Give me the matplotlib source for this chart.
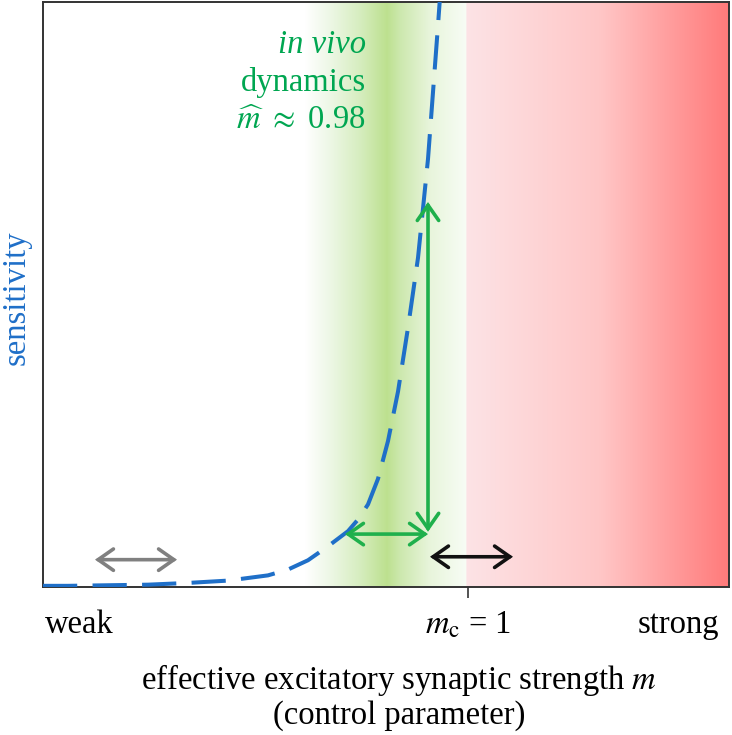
import numpy as np
import matplotlib
matplotlib.use("Agg")
import matplotlib.pyplot as plt
from matplotlib.patches import FancyArrowPatch

plt.rcParams['font.family'] = ['Liberation Serif', 'DejaVu Serif']
plt.rcParams['mathtext.fontset'] = 'stix'

# --- data ---
m_curve = [0.7875, 0.80, 0.82, 0.84, 0.86, 0.88, 0.90, 0.91, 0.92, 0.93, 0.94,
           0.945, 0.95, 0.955, 0.96, 0.965, 0.97, 0.975, 0.98, 0.985, 0.99]
sens_curve = [-0.004, -0.004, -0.003, -0.002, 0.001, 0.005, 0.014, 0.024, 0.040,
              0.064, 0.090, 0.110, 0.136, 0.18, 0.245, 0.33, 0.44, 0.56, 0.73, 0.96, 1.2]
m_hat = 0.98
m_c = 1.0
gray_arrow_x = [0.8135, 0.8545]
gray_arrow_y = 0.041
black_arrow_x = [0.981, 1.0225]
black_arrow_y = 0.046
green_h_x = [0.9385, 0.98]
green_h_y = 0.085
green_v_y = [0.089, 0.656]
xlim = (0.7875, 1.1305)
ylim = (-0.006, 1.0)

fig = plt.figure(figsize=(7.32, 7.35), dpi=100)
ax = fig.add_axes([43/732, (735-587)/735, (729-43)/732, 585/735])

# background gradients (pixel-column based styling)
px = np.arange(43, 730)
def stops(pos, cols):
    cols = np.array(cols)
    return np.stack([np.interp(px, pos, cols[:, i]) for i in range(3)], axis=1)
green = stops([43, 305, 330, 360, 387, 400, 430, 466, 467, 729],
              [(1, 1, 1), (1, 1, 1), (0.93, 0.97, 0.90), (0.84, 0.93, 0.75),
               (0.74, 0.88, 0.56), (0.80, 0.91, 0.68), (0.91, 0.96, 0.86),
               (0.97, 0.99, 0.96), (1, 1, 1), (1, 1, 1)])
red = stops([43, 466, 467, 600, 729],
            [(1, 1, 1), (1, 1, 1), (0.99, 0.89, 0.90), (1.0, 0.78, 0.78), (1.0, 0.48, 0.48)])
rgb = np.where((px >= 467)[:, None], red, green)
img = np.repeat(rgb[None, :, :], 2, axis=0)
ax.imshow(img, extent=(xlim[0], xlim[1], ylim[0], ylim[1]), aspect='auto', zorder=0,
          interpolation='bilinear')

blue = '#1f6fc8'
gcol = '#1fb04c'
ax.plot(m_curve, sens_curve, color=blue, lw=2.9, dashes=(8.5, 3.8), zorder=3,
        solid_capstyle='butt', dash_capstyle='butt')

def arrow(p0, p1, color):
    a = FancyArrowPatch(p0, p1, arrowstyle='<->,head_length=0.5,head_width=0.35',
                        mutation_scale=22, color=color, lw=2.6, shrinkA=0, shrinkB=0,
                        zorder=4, capstyle='round', joinstyle='miter')
    ax.add_patch(a)

arrow((gray_arrow_x[0], gray_arrow_y), (gray_arrow_x[1], gray_arrow_y), '#808080')
arrow((black_arrow_x[0], black_arrow_y), (black_arrow_x[1], black_arrow_y), '#111111')
arrow((green_h_x[0], green_h_y), (green_h_x[1], green_h_y), gcol)
arrow((m_hat, green_v_y[0]), (m_hat, green_v_y[1]), gcol)

ax.set_xlim(*xlim)
ax.set_ylim(*ylim)
ax.set_yticks([])
ax.set_xticks([m_c])
ax.set_xticklabels([''])
ax.tick_params(axis='x', direction='out', length=8, width=1.3, color='#444444')
for s in ax.spines.values():
    s.set_color('#333333')
    s.set_linewidth(1.4)

tcol = '#00a651'
fs = 23.5
tx = 0.9490
ax.text(tx, 0.926, 'in vivo', style='italic', color=tcol, fontsize=fs, ha='right', va='center')
ax.text(tx, 0.861, 'dynamics', color=tcol, fontsize=fs, ha='right', va='center')
ax.text(tx, 0.796, r'$\widehat{m}$ $\approx$ 0.98', color=tcol, fontsize=fs, ha='right', va='center')

fig.text(45/732, 1 - 625/735, 'weak', fontsize=fs, ha='left', va='center')
fig.text(468/732, 1 - 625/735, r'$m_{\mathrm{c}}$ = 1', fontsize=fs, ha='center', va='center')
fig.text(719/732, 1 - 625/735, 'strong', fontsize=fs, ha='right', va='center')
fig.text(399/732, 1 - 680/735, r'effective excitatory synaptic strength $m$', fontsize=fs,
         ha='center', va='center')
fig.text(399/732, 1 - 716/735, '(control parameter)', fontsize=fs, ha='center', va='center')
fig.text(16/732, 1 - 298/735, 'sensitivity', fontsize=fs, color=blue, rotation=90,
         ha='center', va='center')

fig.savefig('out.png', dpi=100)
